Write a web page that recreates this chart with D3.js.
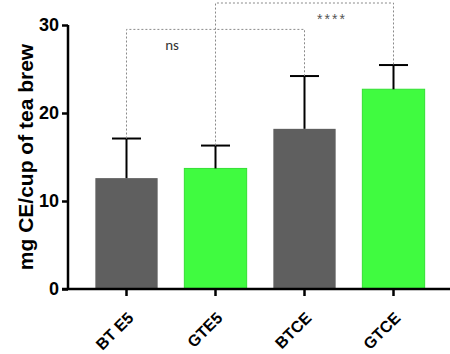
<!DOCTYPE html>
<html>
<head>
<meta charset="utf-8">
<script src="https://cdn.jsdelivr.net/npm/d3@7"></script>
<style>
  body { margin: 0; background: #fff; }
  svg { display: block; font-family: "Liberation Sans", Arial, sans-serif; }
</style>
</head>
<body>
<svg width="450" height="354"></svg>
<script>
let width = 450;
let height = 354;

// data
let groups = ["BT E5", "GTE5", "BTCE", "GTCE"];
let means = [12.6, 13.7, 18.2, 22.7];
let errs = [4.5, 2.6, 6.0, 2.75];
let barColors = ["#5f5f5f", "#40fb40", "#5f5f5f", "#40fb40"];
let yTicks = [0, 10, 20, 30];

// significance brackets: [from, to, level, label]
let brackets = [
    ["BT E5", "BTCE", 29.5, "ns"],
    ["GTE5", "GTCE", 32.5, "****"]
];

let svg = d3.select("svg");

let x = d3.scaleBand()
    .domain(groups)
    .range([82, 438])
    .paddingInner(0.3)
    .paddingOuter(0.15);

let y = d3.scaleLinear()
    .domain([0, 30])
    .range([289, 25]);

// bars
svg.append("g")
    .selectAll("rect")
    .data(groups)
    .join("rect")
    .attr("x", d => x(d))
    .attr("y", (d, i) => y(means[i]))
    .attr("width", x.bandwidth())
    .attr("height", (d, i) => y(0) - y(means[i]))
    .style("fill", (d, i) => barColors[i])
    .style("stroke", (d, i) => i % 2 ? "#33e033" : "none")
    .style("stroke-width", 1);

// error bars (upper only)
let eb = svg.append("g")
    .style("stroke", "#000")
    .style("stroke-width", 2);

groups.forEach(function(g, i) {
    let cx = x(g) + x.bandwidth() / 2;
    eb.append("line")
        .attr("x1", cx).attr("x2", cx)
        .attr("y1", y(means[i])).attr("y2", y(means[i] + errs[i]));
    eb.append("line")
        .attr("x1", cx - 14.5).attr("x2", cx + 14.5)
        .attr("y1", y(means[i] + errs[i])).attr("y2", y(means[i] + errs[i]));
});

// brackets
let br = svg.append("g")
    .style("fill", "none")
    .style("stroke", "#8a8a8a")
    .style("stroke-width", 1)
    .style("stroke-dasharray", "2,2");

brackets.forEach(function(b) {
    let i0 = groups.indexOf(b[0]);
    let i1 = groups.indexOf(b[1]);
    let x0 = x(b[0]) + x.bandwidth() / 2;
    let x1 = x(b[1]) + x.bandwidth() / 2;
    br.append("path")
        .attr("d", `M${x0},${y(means[i0] + errs[i0])}V${y(b[2])}H${x1}V${y(means[i1] + errs[i1])}`);
});

svg.append("text")
    .attr("x", 172)
    .attr("y", y(brackets[0][2]) + 21)
    .attr("text-anchor", "middle")
    .style("font-family", "Carlito, 'Liberation Sans', sans-serif")
    .style("font-size", "15px")
    .style("fill", "#333")
    .text(brackets[0][3]);

svg.append("text")
    .attr("x", 332)
    .attr("y", y(brackets[1][2]) + 21)
    .attr("text-anchor", "middle")
    .style("font-size", "14px")
    .style("letter-spacing", "2px")
    .style("fill", "#555")
    .text(brackets[1][3]);

// y axis
let yAxis = svg.append("g")
    .attr("transform", "translate(68,0)")
    .call(d3.axisLeft(y).tickValues(yTicks).tickSize(6).tickPadding(3));

yAxis.select(".domain")
    .attr("d", `M0,${y(30)}V${y(0)}`)
    .style("stroke-width", 2.5);
yAxis.selectAll(".tick line").style("stroke-width", 2.5);
yAxis.selectAll(".tick text")
    .style("font-size", "18px")
    .style("font-weight", "bold")
    .style("fill", "#000");

// x axis (labels drawn separately, rotated)
let xAxis = svg.append("g")
    .attr("transform", `translate(0,${y(0)})`)
    .call(d3.axisBottom(x).tickSize(7).tickFormat(""));

xAxis.select(".domain")
    .attr("d", "M62,0H450")
    .style("stroke-width", 2.5);
xAxis.selectAll(".tick line").style("stroke-width", 2.5);

svg.append("g")
    .selectAll("text")
    .data(groups)
    .join("text")
    .attr("transform", d => `translate(${x(d) + x.bandwidth() / 2 + 4},${y(0) + 26}) rotate(-45)`)
    .attr("text-anchor", "end")
    .attr("dy", "0.35em")
    .style("font-size", "16px")
    .style("font-weight", "bold")
    .style("fill", "#000")
    .text(d => d);

// y label
svg.append("text")
    .attr("transform", "translate(33,157) rotate(-90)")
    .attr("text-anchor", "middle")
    .style("font-size", "21px")
    .style("font-weight", "bold")
    .text("mg CE/cup of tea brew");
</script>
</body>
</html>
